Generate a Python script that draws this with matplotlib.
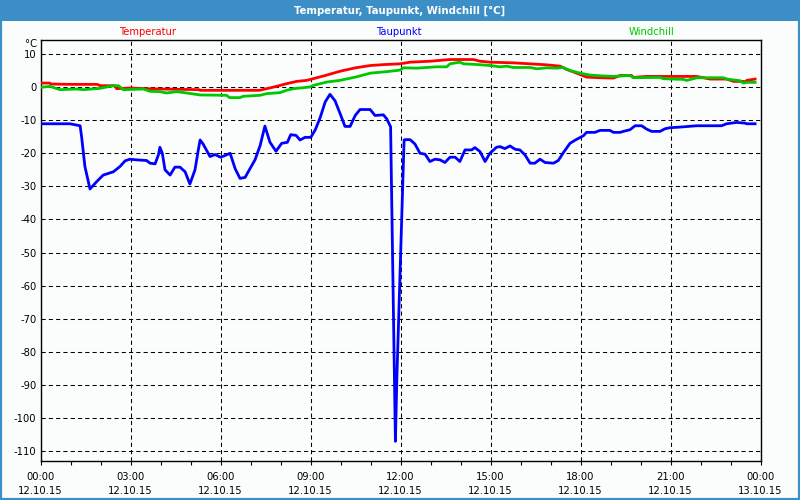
import matplotlib
matplotlib.use("Agg")
import matplotlib.pyplot as plt
from matplotlib.patches import Rectangle

# ---------------- data ----------------
temp_h = [0.0, 0.3, 0.35, 1.0, 1.88, 2.0, 2.47, 2.54, 3.0, 3.5, 4.0, 5.3, 5.32, 7.3, 7.54, 7.87,
          8.2, 8.54, 8.87, 9.0, 9.5, 10.0, 10.5, 11.0, 11.5, 11.98, 12.32, 13.0, 13.65, 14.43,
          14.65, 14.98, 15.76, 16.32, 16.87, 17.32, 17.54, 17.87, 18.2, 18.65, 19.1, 19.32,
          19.7, 19.76, 20.2, 21.87, 22.32, 22.87, 23.1, 23.43, 23.48, 23.54, 23.82]
temp_v = [1.2, 1.2, 0.9, 0.8, 0.8, 0.4, 0.4, -0.5, -0.3, -0.5, -0.6, -0.8, -1.0, -1.0, -0.5, 0.2,
          1.0, 1.7, 2.0, 2.3, 3.5, 4.8, 5.8, 6.5, 6.8, 7.0, 7.5, 7.8, 8.3, 8.3,
          7.8, 7.5, 7.3, 7.0, 6.7, 6.3, 5.3, 4.2, 3.0, 2.8, 2.7, 3.5,
          3.5, 2.9, 3.2, 3.2, 2.4, 2.4, 1.7, 1.7, 1.4, 2.0, 2.4]

dew_h = [0.0, 0.98, 1.32, 1.37, 1.48, 1.65, 1.87, 2.09, 2.43, 2.65, 2.82, 2.98, 3.2, 3.54, 3.65,
         3.82, 3.93, 3.98, 4.06, 4.15, 4.32, 4.48, 4.65, 4.82, 4.98, 5.15, 5.26, 5.32, 5.42,
         5.65, 5.82, 6.0, 6.15, 6.32, 6.49, 6.65, 6.82, 6.98, 7.15, 7.32, 7.48, 7.65, 7.85,
         8.04, 8.23, 8.34, 8.52, 8.65, 8.82, 9.01, 9.16, 9.32, 9.49, 9.65, 9.82, 9.99, 10.15,
         10.32, 10.49, 10.65, 10.99, 11.15, 11.43, 11.54, 11.67, 11.83, 11.88, 12.12, 12.15,
         12.32, 12.48, 12.65, 12.82, 12.98, 13.15, 13.32, 13.48, 13.65, 13.82, 13.98, 14.15,
         14.37, 14.48, 14.65, 14.82, 14.98, 15.2, 15.32, 15.48, 15.65, 15.82, 15.98, 16.15,
         16.32, 16.48, 16.65, 16.82, 17.1, 17.26, 17.43, 17.65, 17.87, 18.1, 18.2, 18.48,
         18.65, 18.98, 19.1, 19.32, 19.43, 19.65, 19.82, 20.04, 20.2, 20.37, 20.65, 20.82,
         20.98, 21.32, 21.87, 22.7, 22.87, 23.2, 23.48, 23.54, 23.82]
dew_v = [-11.1, -11.1, -11.7, -15, -24, -30.8, -28.6, -26.6, -25.6, -24, -22.3, -21.8, -22, -22.2, -23,
         -23.2, -20.5, -18.2, -20, -25, -26.6, -24.2, -24.2, -25.6, -29.3, -25, -19, -16, -17.2,
         -21, -20.4, -21.2, -20.7, -20, -24.7, -27.6, -27.3, -24.7, -22, -17.7, -11.8, -16.7, -19.4,
         -17, -16.7, -14.4, -14.6, -16, -15.2, -15.2, -12.9, -9.3, -4.5, -2.2, -4.2, -8.1, -11.9,
         -11.9, -8.6, -6.8, -6.8, -8.6, -8.4, -9.6, -12, -107, -87.5, -16, -15.9,
         -15.9, -17.2, -20, -20.3, -22.5, -21.8, -22, -22.8, -21.2, -21.2, -22.5, -19,
         -19, -18.3, -19.5, -22.5, -20, -18.2, -18, -18.6, -17.8, -18.8, -19, -20.5,
         -23, -23, -21.8, -22.8, -23, -22.2, -19.8, -17, -15.8, -14.7, -13.7, -13.7,
         -13.1, -13.1, -13.7, -13.7, -13.4, -12.9, -11.7, -11.7, -12.7, -13.4, -13.4, -12.6,
         -12.3, -12.1, -11.7, -11.7, -11.1, -10.7, -10.9, -11.1, -11.1]

wind_h = [0.0, 0.32, 0.48, 0.65, 1.2, 1.43, 1.98, 2.43, 2.6, 2.76, 3.43, 3.65, 3.98, 4.2, 4.54,
          4.87, 5.32, 6.2, 6.3, 6.65, 6.76, 7.32, 7.54, 7.98, 8.2, 8.43, 8.98, 9.1, 9.54, 9.98,
          10.5, 11.0, 11.5, 11.98, 12.1, 12.54, 12.87, 13.2, 13.54, 13.65, 13.98, 14.1, 14.54,
          14.98, 15.32, 15.54, 15.76, 16.32, 16.54, 16.87, 17.2, 17.43, 17.65, 17.98, 18.32,
          18.65, 19.1, 19.65, 19.76, 20.65, 20.76, 21.43, 21.54, 21.76, 21.87, 22.76, 22.87,
          23.32, 23.43, 23.54, 23.82]
wind_v = [-0.1, 0.2, -0.3, -0.8, -0.6, -0.8, -0.4, 0.4, 0.4, -0.8, -0.6, -1.3, -1.4, -1.8, -1.4,
          -1.8, -2.4, -2.5, -3.2, -3.2, -2.8, -2.5, -2.0, -1.7, -1.0, -0.5, 0.0, 0.5, 1.5, 2.0,
          3.0, 4.2, 4.6, 5.1, 5.8, 5.7, 5.9, 6.1, 6.1, 7.0, 7.5, 7.0, 6.8,
          6.5, 6.1, 6.3, 5.9, 5.9, 5.5, 5.8, 5.7, 5.9, 5.0, 4.2, 3.6,
          3.4, 3.2, 3.5, 2.8, 2.9, 2.5, 2.3, 2.0, 2.5, 2.8, 2.8, 2.4,
          1.9, 1.2, 1.4, 1.4]

x_ticks = [0, 3, 6, 9, 12, 15, 18, 21, 24]
x_labels = ["00:00\n12.10.15", "03:00\n12.10.15", "06:00\n12.10.15", "09:00\n12.10.15",
            "12:00\n12.10.15", "15:00\n12.10.15", "18:00\n12.10.15", "21:00\n12.10.15",
            "00:00\n13.10.15"]
y_ticks = [10, 0, -10, -20, -30, -40, -50, -60, -70, -80, -90, -100, -110]

series_names = ["Temperatur", "Taupunkt", "Windchill"]
title = "Temperatur, Taupunkt, Windchill [°C]"

# ---------------- style ----------------
W, H = 800, 500
BLUE_BAR = "#3c8fc6"
C_T, C_D, C_W = "#ff0000", "#0000ff", "#00c800"

fig = plt.figure(figsize=(8, 5), dpi=100, facecolor="#fbfdfd")

# title bar and frame
fig.patches.append(Rectangle((0, 1 - 21 / H), 1, 21 / H, transform=fig.transFigure,
                             facecolor=BLUE_BAR, edgecolor="none", zorder=0))
fig.patches.append(Rectangle((1 / W, 1 / H), 1 - 2 / W, 1 - 2 / H, transform=fig.transFigure,
                             facecolor="none", edgecolor=BLUE_BAR, linewidth=1.6, zorder=1))
fig.text(0.5, 1 - 10.5 / H, title, color="white", fontsize=7.3, fontweight="bold",
         ha="center", va="center")

ax = fig.add_axes([40.5 / W, 39.5 / H, 720 / W, 420.5 / H])
ax.set_facecolor("#fbfdfd")

ax.plot(temp_h, temp_v, color=C_T, lw=2.0, zorder=3)
ax.plot(wind_h, wind_v, color=C_W, lw=2.0, zorder=4)
ax.plot(dew_h, dew_v, color=C_D, lw=2.0, zorder=5)

ax.set_xlim(0, 24)
ax.set_ylim(-112.8, 14.2)

ax.set_xticks(x_ticks)
ax.set_xticklabels(x_labels, fontsize=7.2)
ax.set_xticks(range(0, 25), minor=True)
ax.set_yticks(y_ticks)
ax.set_yticklabels([str(v) for v in y_ticks], fontsize=7.2)
for lab in ax.get_xticklabels():
    lab.set_linespacing(1.55)

ax.tick_params(axis="x", which="both", direction="out", length=3, width=0.8, pad=5)
ax.tick_params(axis="y", length=0, pad=3)

ax.grid(True, which="major", color="black", linestyle=(0, (4, 3)), linewidth=0.75)
for s in ax.spines.values():
    s.set_linewidth(1.0)
    s.set_color("black")

# unit label and series names
fig.text(37 / W, 1 - 44 / H, "°C", fontsize=7.2, ha="right", va="center")
fig.text(148 / W, 1 - 32 / H, series_names[0], color=C_T, fontsize=7.2, ha="center", va="center")
fig.text(399 / W, 1 - 32 / H, series_names[1], color=C_D, fontsize=7.2, ha="center", va="center")
fig.text(652 / W, 1 - 32 / H, series_names[2], color=C_W, fontsize=7.2, ha="center", va="center")

fig.savefig("out.png", dpi=100, facecolor=fig.get_facecolor())
